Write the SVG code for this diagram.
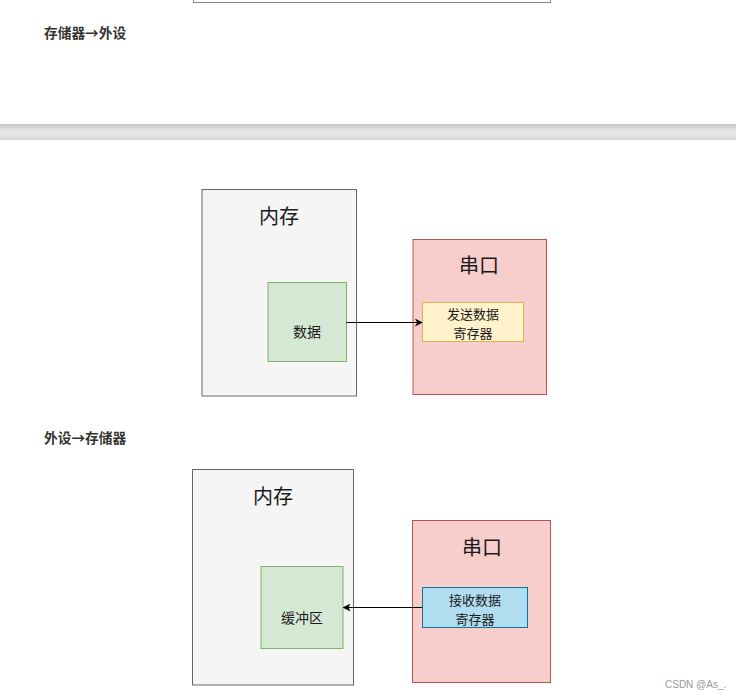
<svg xmlns="http://www.w3.org/2000/svg" width="736" height="698" viewBox="0 0 736 698">
<style>
text{font-family:"Noto Sans CJK SC","Noto Sans",sans-serif;fill:#1a1a1a}
.h{font-size:13.7px;font-weight:bold;fill:#333}
.t{font-size:20px;text-anchor:middle;dominant-baseline:central}
.s{font-size:14px;text-anchor:middle;dominant-baseline:central}
.s2{font-size:13px;text-anchor:middle;dominant-baseline:central}
.mem{fill:#f5f5f5;stroke:#666;stroke-width:1}
.grn{fill:#d5e8d4;stroke:#82b366;stroke-width:1}
.red{fill:#f8cecc;stroke:#b85450;stroke-width:1}
.yel{fill:#fff2cc;stroke:#d6b656;stroke-width:1}
.blu{fill:#b1ddf0;stroke:#10739e;stroke-width:1}
.c{stroke:#000;stroke-width:1;fill:none;marker-end:url(#ah)}
</style>
<defs>
<marker id="ah" viewBox="0 0 10 10" refX="9" refY="5" markerWidth="8" markerHeight="8" markerUnits="userSpaceOnUse" orient="auto">
<path d="M0,0 L10,5 L0,10 L3,5 Z" fill="#000"/>
</marker>
<linearGradient id="band" x1="0" y1="0" x2="0" y2="1">
<stop offset="0" stop-color="#c4c4c4"/>
<stop offset="0.3" stop-color="#dedede"/>
<stop offset="0.6" stop-color="#e8e8e8"/>
<stop offset="1" stop-color="#d8d8d8"/>
</linearGradient>
</defs>
<rect width="736" height="698" fill="#fff"/>
<rect x="193.5" y="-10" width="357" height="12.5" fill="#fff" stroke="#888"/>
<text class="h" x="44" y="38">存储器→外设</text>
<rect x="0" y="124" width="736" height="16" fill="url(#band)"/>
<text class="h" x="44" y="443">外设→存储器</text>

<g id="mem1"><rect class="mem" x="202" y="189.5" width="154.5" height="206.5"/><text class="t" x="279" y="215">内存</text></g>
<g id="data1"><rect class="grn" x="268" y="282.5" width="78.5" height="79"/><text class="s" x="307" y="331">数据</text></g>
<g id="uart1"><rect class="red" x="413" y="239.5" width="133.5" height="155"/><text class="t" x="479" y="264">串口</text></g>
<g id="tx"><rect class="yel" x="422.5" y="302.5" width="101" height="39"/><text class="s2" x="473" y="313"><tspan x="473">发送数据</tspan><tspan x="473" dy="19">寄存器</tspan></text></g>

<g id="mem2"><rect class="mem" x="192.5" y="469.5" width="161" height="215.5"/><text class="t" x="273" y="495">内存</text></g>
<g id="buf"><rect class="grn" x="261" y="566.5" width="82" height="82"/><text class="s" x="302" y="617">缓冲区</text></g>
<g id="uart2"><rect class="red" x="412.5" y="520.5" width="138" height="162"/><text class="t" x="482" y="546">串口</text></g>
<g id="rx"><rect class="blu" x="422.5" y="587.5" width="105" height="40"/><text class="s2" x="475" y="598.5"><tspan x="475">接收数据</tspan><tspan x="475" dy="19">寄存器</tspan></text></g>

<g id="connectors">
<path class="c" d="M346.5,322.5 L422,322.5"/>
<path class="c" d="M422,607.5 L343.5,607.5"/>
</g>
<text x="665" y="688" style="font-family:'Liberation Sans',sans-serif;font-size:10px;fill:#999">CSDN @As_.</text>
</svg>
